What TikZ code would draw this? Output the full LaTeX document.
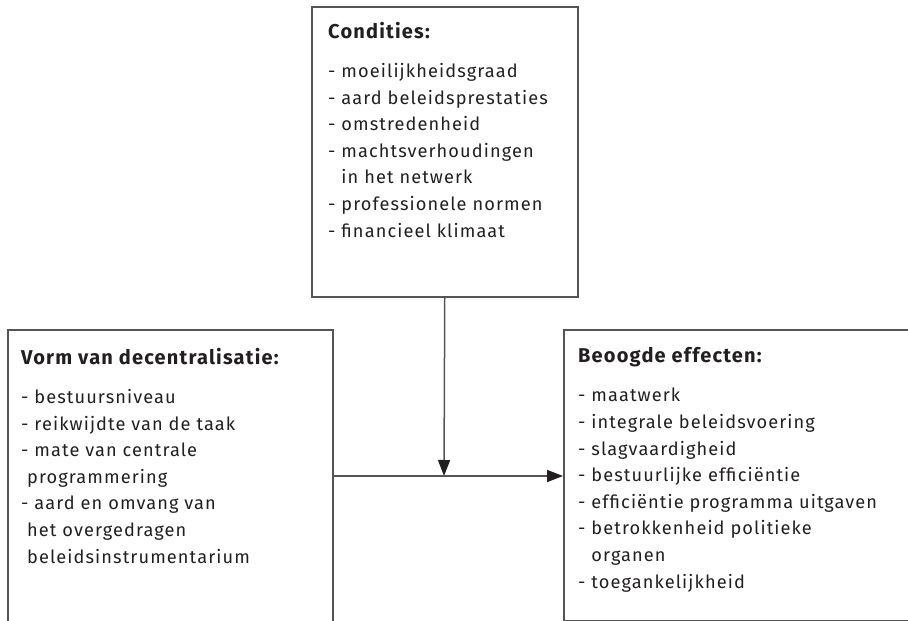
\documentclass[tikz,border=0pt]{standalone}
\usepackage{fontspec}
\setmainfont{Fira Sans}[LetterSpace=6]
\usetikzlibrary{arrows.meta}
\definecolor{lijn}{HTML}{555555}
\definecolor{inkt}{HTML}{231F20}
\tikzset{
  kader/.style={draw=lijn, line width=1.5pt, inner sep=0pt, anchor=north west},
  lijst/.style={anchor=base west, align=left, inner sep=0pt, text=inkt,
    font=\fontsize{18.2}{26.6}\selectfont},
  pijl/.style={draw=lijn, line width=1.5pt,
    -{Triangle[length=16pt,width=12pt,color=inkt]}}
}
\newcommand{\kop}[1]{{\fontsize{20}{26.6}\selectfont\bfseries #1}}
\newcommand{\inspring}{\hphantom{- }}

\begin{document}
\begin{tikzpicture}[x=1pt, y=-1pt]
	\path[use as bounding box, clip] (0,0) rectangle (908,621);
	% kaders
	\node[kader, minimum width=266, minimum height=290] (condities) at (311,6) {};
	\node[kader, minimum width=325, minimum height=330] (vorm) at (7,329) {};
	\node[kader, minimum width=360, minimum height=291] (effecten) at (563,329) {};
	% teksten
	\node[lijst] (condtekst) at (328,237) {\kop{Condities:}\\[12.4pt]
		- moeilijkheidsgraad\\
		- aard beleidsprestaties\\
		- omstredenheid\\
		- machtsverhoudingen\\
		\inspring in het netwerk\\
		- professionele normen\\
		- financieel klimaat};
	\node[lijst] (vormtekst) at (21,563) {\kop{Vorm van decentralisatie:}\\[12.4pt]
		- bestuursniveau\\
		- reikwijdte van de taak\\
		- mate van centrale\\
		\hspace*{6pt}programmering\\
		- aard en omvang van\\
		\hspace*{6pt}het overgedragen\\
		\hspace*{6pt}beleidsinstrumentarium};
	\node[lijst] (effecttekst) at (578,588) {\kop{Beoogde effecten:}\\[12.4pt]
		- maatwerk\\
		- integrale beleidsvoering\\
		- slagvaardigheid\\
		- bestuurlijke efficiëntie\\
		- efficiëntie programma uitgaven\\
		- betrokkenheid politieke\\
		\inspring organen\\
		- toegankelijkheid};
	% pijlen
	\coordinate (kruis) at (444,476);
	\draw[pijl] (condities.south) -- (kruis);
	\draw[pijl] (vorm.east |- kruis) -- (effecten.west |- kruis);
\end{tikzpicture}
\end{document}
